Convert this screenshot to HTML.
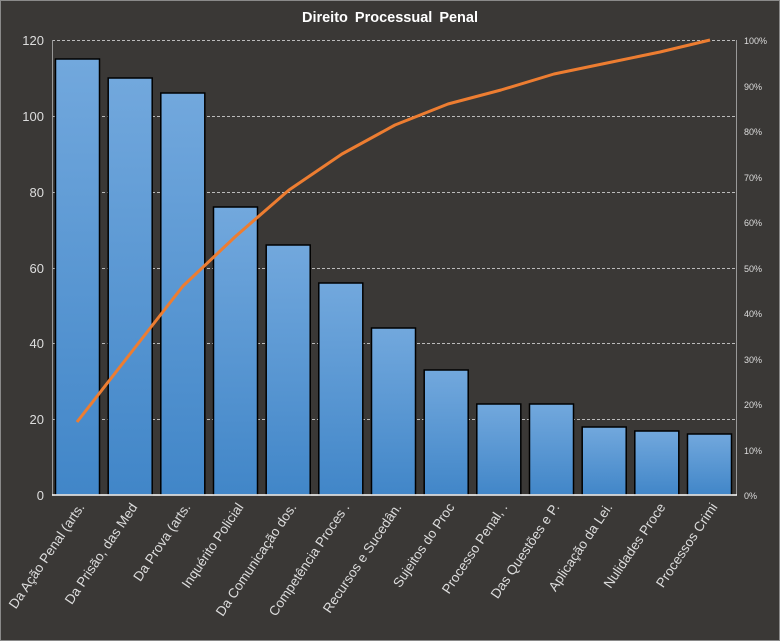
<!DOCTYPE html>
<html><head><meta charset="utf-8"><style>
body{margin:0;background:#3a3836;}
svg{display:block;font-family:"Liberation Sans",sans-serif;}
</style></head><body>
<svg width="780" height="641" xmlns="http://www.w3.org/2000/svg">
<defs><linearGradient id="g" x1="0" y1="0" x2="0" y2="1"><stop offset="0" stop-color="#72a8dd"/><stop offset="1" stop-color="#4186c8"/></linearGradient></defs>
<rect x="0.5" y="0.5" width="779" height="640" fill="#3a3836" stroke="#8a8a8a"/>
<text x="390" y="22" fill="#fff" font-size="14.5" font-weight="bold" text-anchor="middle" style="word-spacing:3px">Direito Processual Penal</text>
<g stroke="#bbb" stroke-dasharray="3,2" stroke-width="1">
<line x1="52" y1="40.5" x2="737" y2="40.5"/><line x1="52" y1="116.5" x2="737" y2="116.5"/><line x1="52" y1="192.5" x2="737" y2="192.5"/><line x1="52" y1="268.5" x2="737" y2="268.5"/><line x1="52" y1="343.5" x2="737" y2="343.5"/><line x1="52" y1="419.5" x2="737" y2="419.5"/>
</g>
<line x1="52.5" y1="40" x2="52.5" y2="495" stroke="#999"/>
<line x1="736.5" y1="40" x2="736.5" y2="495" stroke="#999"/>
<g fill="#ddd" font-size="13" text-anchor="end">
<text x="44" y="45">120</text><text x="44" y="121">100</text><text x="44" y="197">80</text><text x="44" y="273">60</text><text x="44" y="348">40</text><text x="44" y="424">20</text><text x="44" y="500">0</text>
</g>
<g fill="#ddd" font-size="9">
<text x="744" y="44">100%</text><text x="744" y="90">90%</text><text x="744" y="135">80%</text><text x="744" y="181">70%</text><text x="744" y="226">60%</text><text x="744" y="272">50%</text><text x="744" y="317">40%</text><text x="744" y="363">30%</text><text x="744" y="408">20%</text><text x="744" y="454">10%</text><text x="744" y="499">0%</text>
</g>
<g fill="url(#g)" stroke="#000" stroke-width="1.5">
<rect x="55.5" y="59" width="44" height="436"/>
<rect x="108.2" y="78" width="44" height="417"/>
<rect x="160.8" y="93" width="44" height="402"/>
<rect x="213.5" y="207" width="44" height="288"/>
<rect x="266.2" y="245" width="44" height="250"/>
<rect x="318.8" y="283" width="44" height="212"/>
<rect x="371.5" y="328" width="44" height="167"/>
<rect x="424.2" y="370" width="44" height="125"/>
<rect x="476.8" y="404" width="44" height="91"/>
<rect x="529.5" y="404" width="44" height="91"/>
<rect x="582.2" y="427" width="44" height="68"/>
<rect x="634.8" y="431" width="44" height="64"/>
<rect x="687.5" y="434" width="44" height="61"/>
</g>
<line x1="52" y1="495" x2="737" y2="495" stroke="#fff" stroke-width="1.5"/>
<polyline fill="none" stroke="#ed7d31" stroke-width="3" stroke-linejoin="round" points="77,422 130,354 183,286 236,236 289,190 342,154 395,125 448,104 501,90 554,74 607,63 660,52 710,40"/>
<g fill="#ddd" font-size="13.5" text-anchor="end">
<text transform="translate(85,507) rotate(-56)">Da Ação Penal (arts.</text>
<text transform="translate(138,507) rotate(-56)">Da Prisão, das Med</text>
<text transform="translate(191,507) rotate(-56)">Da Prova (arts.</text>
<text transform="translate(244,507) rotate(-56)">Inquérito Policial</text>
<text transform="translate(297,507) rotate(-56)">Da Comunicação dos.</text>
<text transform="translate(350,507) rotate(-56)">Competência Proces .</text>
<text transform="translate(402,507) rotate(-56)">Recursos e Sucedân.</text>
<text transform="translate(455,507) rotate(-56)">Sujeitos do Proc</text>
<text transform="translate(508,507) rotate(-56)">Processo Penal, .</text>
<text transform="translate(560,507) rotate(-56)">Das Questões e P.</text>
<text transform="translate(613,507) rotate(-56)">Aplicação da Lei.</text>
<text transform="translate(666,507) rotate(-56)">Nulidades Proce</text>
<text transform="translate(718,507) rotate(-56)">Processos Crimi</text>
</g>
</svg>
</body></html>
